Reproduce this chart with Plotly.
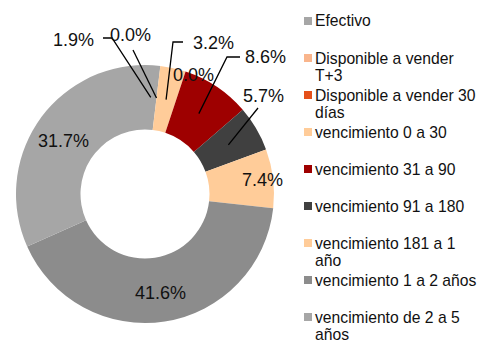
import math
import plotly.graph_objects as go

# Portfolio composition by liquidity / maturity bucket (percent)
categories = [
    "Efectivo",
    "Disponible a vender<br>T+3",
    "Disponible a vender 30<br>días",
    "vencimiento 0 a 30",
    "vencimiento 31 a 90",
    "vencimiento 91 a 180",
    "vencimiento 181 a 1<br>año",
    "vencimiento 1 a 2 años",
    "vencimiento de 2 a 5<br>años",
]
shares = [1.9, 0.0, 0.0, 3.2, 8.6, 5.7, 7.4, 41.6, 31.7]
colors = [
    "#A6A6A6", "#F9B58C", "#E5501A", "#FFCC99", "#9E0000",
    "#404040", "#FFCC99", "#8C8C8C", "#A6A6A6",
]

W, H = 484, 345
CX, CY, R = 145, 194, 129          # donut centre and outer radius (px)
HOLE = 0.5
R_MID = R * (1 + HOLE) / 2

# Key layout (px): swatch left edge, swatch size, text start, first row, row pitch, line gap
KEY_X, KEY_SW, KEY_TX = 304, 8, 315
KEY_Y0, KEY_PITCH, KEY_LINE = 21, 37.0, 17.5

# How each value label is placed: inside the ring along the slice's mid-angle
# ("ring", radius) or as a callout ("callout", text centre, leader path points).
placement = [
    ("callout", (73, 40), [(112, 38), (103, 38)]),
    ("callout", (130, 35), [(133, 50)]),
    ("callout", (193, 75), []),
    ("callout", (213, 43), [(173, 42), (183, 42)]),
    ("callout", (265, 57), [(227, 57), (240, 57)]),
    ("callout", (263, 96), [(258, 108)]),
    ("ring", 118),
    ("ring", 100),
    ("ring", 97),
]


def px_to_paper(x, y):
    return x / W, 1 - y / H


def polar_px(frac, r):
    a = 2 * math.pi * frac
    return CX + r * math.sin(a), CY - r * math.cos(a)


fig = go.Figure(
    go.Pie(
        labels=[c.replace("<br>", " ") for c in categories],
        values=shares,
        hole=HOLE,
        sort=False,
        direction="clockwise",
        rotation=0,
        marker=dict(colors=colors, line=dict(width=0)),
        textinfo="none",
        hoverinfo="label+percent",
        showlegend=False,
        domain=dict(
            x=[(CX - R) / W, (CX + R) / W],
            y=[1 - (CY + R) / H, 1 - (CY - R) / H],
        ),
    )
)

total = sum(shares)
annotations, shapes = [], []
running = 0.0
for value, place in zip(shares, placement):
    mid = (running + value / 2) / total
    running += value
    label = f"{value:.1f}%"
    if place[0] == "ring":
        tx, ty = polar_px(mid, place[1])
    else:
        tx, ty = place[1]
        if place[2]:
            pts = [polar_px(mid, R_MID)] + list(place[2])
            path = "M " + " L ".join(
                "{:.5f},{:.5f}".format(*px_to_paper(x, y)) for x, y in pts
            )
            shapes.append(dict(type="path", xref="paper", yref="paper", path=path,
                               line=dict(color="#000000", width=1.3)))
    ax_, ay_ = px_to_paper(tx, ty)
    annotations.append(dict(x=ax_, y=ay_, xref="paper", yref="paper", text=label,
                            showarrow=False, xanchor="center", yanchor="middle",
                            font=dict(size=18, color="#111111")))

# Key: colour swatch plus (possibly wrapped) category name for each slice
for i, (name, col) in enumerate(zip(categories, colors)):
    yc = KEY_Y0 + i * KEY_PITCH
    x0, y0 = px_to_paper(KEY_X, yc - KEY_SW / 2)
    x1, y1 = px_to_paper(KEY_X + KEY_SW, yc + KEY_SW / 2)
    shapes.append(dict(type="rect", xref="paper", yref="paper",
                       x0=x0, x1=x1, y0=y1, y1=y0,
                       fillcolor=col, line=dict(width=0)))
    for j, line in enumerate(name.split("<br>")):
        lx, ly = px_to_paper(KEY_TX, yc + j * KEY_LINE)
        annotations.append(dict(x=lx, y=ly, xref="paper", yref="paper", text=line,
                                showarrow=False, xanchor="left", yanchor="middle",
                                xshift=-2, font=dict(size=15.7, color="#111111")))

fig.update_layout(
    width=W, height=H,
    margin=dict(l=0, r=0, t=0, b=0),
    paper_bgcolor="white",
    font=dict(family="Liberation Sans, Arial, sans-serif", color="#111111"),
    annotations=annotations,
    shapes=shapes,
    showlegend=False,
)

fig.write_html("out.html")
